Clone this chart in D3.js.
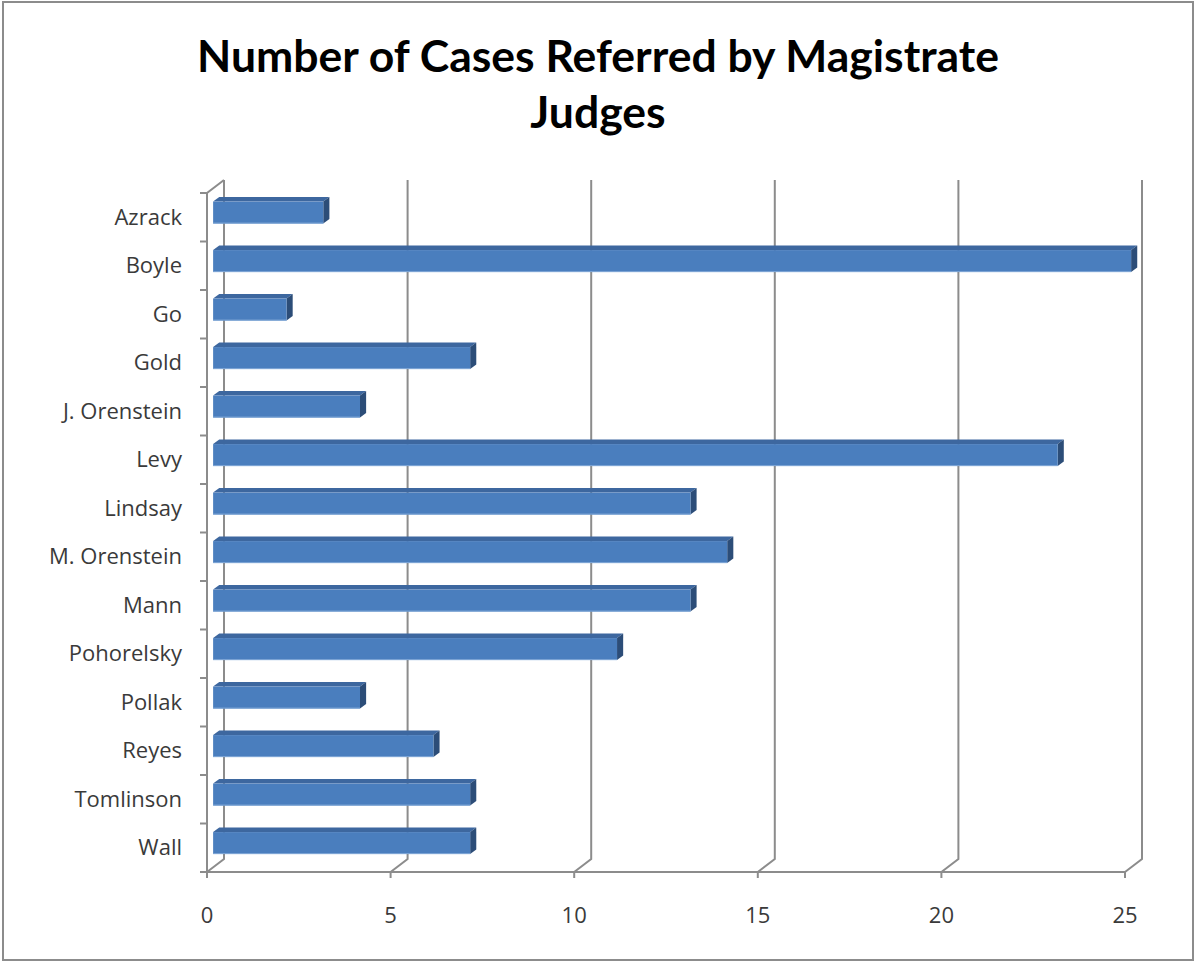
<!DOCTYPE html>
<html lang="en">
<head>
  <meta charset="UTF-8" />
  <title>Number of Cases Referred by Magistrate Judges</title>
  <script src="https://d3js.org/d3.v7.min.js"></script>
  <style>
    body { margin: 0; background: #fff; }
    svg { display: block; }
    .title { font-family: Lato, "Open Sans", sans-serif; font-weight: bold; fill: #000; }
    .lbl { font-family: "Open Sans", Lato, sans-serif; fill: #3a3a3a; }
  </style>
</head>
<body>
  <svg width="1196" height="963"></svg>
  <script>
    // data
    const judges = ["Azrack", "Boyle", "Go", "Gold", "J. Orenstein", "Levy", "Lindsay",
                    "M. Orenstein", "Mann", "Pohorelsky", "Pollak", "Reyes", "Tomlinson", "Wall"];
    const cases = [3, 25, 2, 7, 4, 23, 13, 14, 13, 11, 4, 6, 7, 7];
    const xTicks = [0, 5, 10, 15, 20, 25];
    const titleLines = ["Number of Cases Referred by Magistrate", "Judges"];

    const svg = d3.select("svg");

    // 3D depth offset (back wall is shifted right and up)
    const DX = 17, DY = -13;
    const off = t => [DX * t, DY * t];

    const floorY = 872, topY = 193;
    const x = d3.scaleLinear().domain([0, 25]).range([207, 1125]);
    const y = d3.scaleBand().domain(judges).range([topY, floorY]);

    const gridColor = "#8c8c8c";

    // outer frame
    svg.append("rect")
      .attr("x", 3).attr("y", 2).attr("width", 1190).attr("height", 958)
      .attr("fill", "none").attr("stroke", gridColor).attr("stroke-width", 2);

    // title
    svg.selectAll(".title")
      .data(titleLines)
      .enter().append("text")
      .attr("class", "title")
      .attr("x", 598)
      .attr("y", (d, i) => 72 + i * 56)
      .attr("text-anchor", "middle")
      .attr("font-size", 44.5)
      .text(d => d);

    const g = svg.append("g");

    // back-wall gridlines with the diagonal down to the floor front edge
    const [bx, by] = off(1);
    g.selectAll(".grid")
      .data(xTicks)
      .enter().append("path")
      .attr("fill", "none")
      .attr("stroke", gridColor)
      .attr("stroke-width", 2)
      .attr("d", d => `M${x(d) + bx},${topY + by}L${x(d) + bx},${floorY + by}L${x(d)},${floorY}`);

    // left wall: front axis line and the top connector
    g.append("path")
      .attr("fill", "none").attr("stroke", gridColor).attr("stroke-width", 2)
      .attr("d", `M${x(0) + bx},${topY + by}L${x(0)},${topY}L${x(0)},${floorY + 6}`);

    // floor front edge
    g.append("line")
      .attr("x1", x(0) - 7).attr("x2", x(25))
      .attr("y1", floorY).attr("y2", floorY)
      .attr("stroke", gridColor).attr("stroke-width", 2);

    // x ticks
    g.selectAll(".xtick")
      .data(xTicks)
      .enter().append("line")
      .attr("x1", d => x(d)).attr("x2", d => x(d))
      .attr("y1", floorY).attr("y2", floorY + 6)
      .attr("stroke", gridColor).attr("stroke-width", 2);

    // category ticks at band edges
    const edges = judges.map(d => y(d)).concat([floorY]);
    g.selectAll(".ytick")
      .data(edges)
      .enter().append("line")
      .attr("x1", x(0) - 7).attr("x2", x(0))
      .attr("y1", d => d).attr("y2", d => d)
      .attr("stroke", gridColor).attr("stroke-width", 2);

    // bars: front face, top face, end face
    const t1 = 0.36, t2 = 0.72;
    const barH = 22;
    const [fx, fy] = off(t1);
    const [kx, ky] = off(t2);
    const bars = g.selectAll(".bar")
      .data(judges.map((j, i) => ({ j, v: cases[i] })))
      .enter().append("g");

    bars.each(function(d) {
      const sel = d3.select(this);
      const yc = y(d.j) + y.bandwidth() / 2 + fy;
      const y0 = yc - barH / 2, y1 = yc + barH / 2;
      const xa = x(0) + fx, xb = x(d.v) + fx;
      const ex = kx - fx, ey = ky - fy;
      // top face
      sel.append("path")
        .attr("fill", "#3d679f")
        .attr("d", `M${xa},${y0}L${xa + ex},${y0 + ey}L${xb + ex},${y0 + ey}L${xb},${y0}Z`);
      // end face
      sel.append("path")
        .attr("fill", "#2c4d78")
        .attr("d", `M${xb},${y0}L${xb + ex},${y0 + ey}L${xb + ex},${y1 + ey}L${xb},${y1}Z`);
      // front face
      sel.append("rect")
        .attr("x", xa).attr("y", y0)
        .attr("width", xb - xa).attr("height", barH)
        .attr("fill", "#4a7ebe");
      sel.append("line")
        .attr("x1", xa).attr("x2", xb)
        .attr("y1", y1 - 0.5).attr("y2", y1 - 0.5)
        .attr("stroke", "#7fa6d6").attr("stroke-width", 1);
    });

    // category labels
    g.selectAll(".ylbl")
      .data(judges)
      .enter().append("text")
      .attr("class", "lbl")
      .attr("x", 182)
      .attr("y", d => y(d) + y.bandwidth() / 2)
      .attr("dy", "0.35em")
      .attr("text-anchor", "end")
      .attr("font-size", 22)
      .text(d => d);

    // x tick labels
    g.selectAll(".xlbl")
      .data(xTicks)
      .enter().append("text")
      .attr("class", "lbl")
      .attr("x", d => x(d))
      .attr("y", 915)
      .attr("dy", "0.35em")
      .attr("text-anchor", "middle")
      .attr("font-size", 22)
      .text(d => d);
  </script>
</body>
</html>
